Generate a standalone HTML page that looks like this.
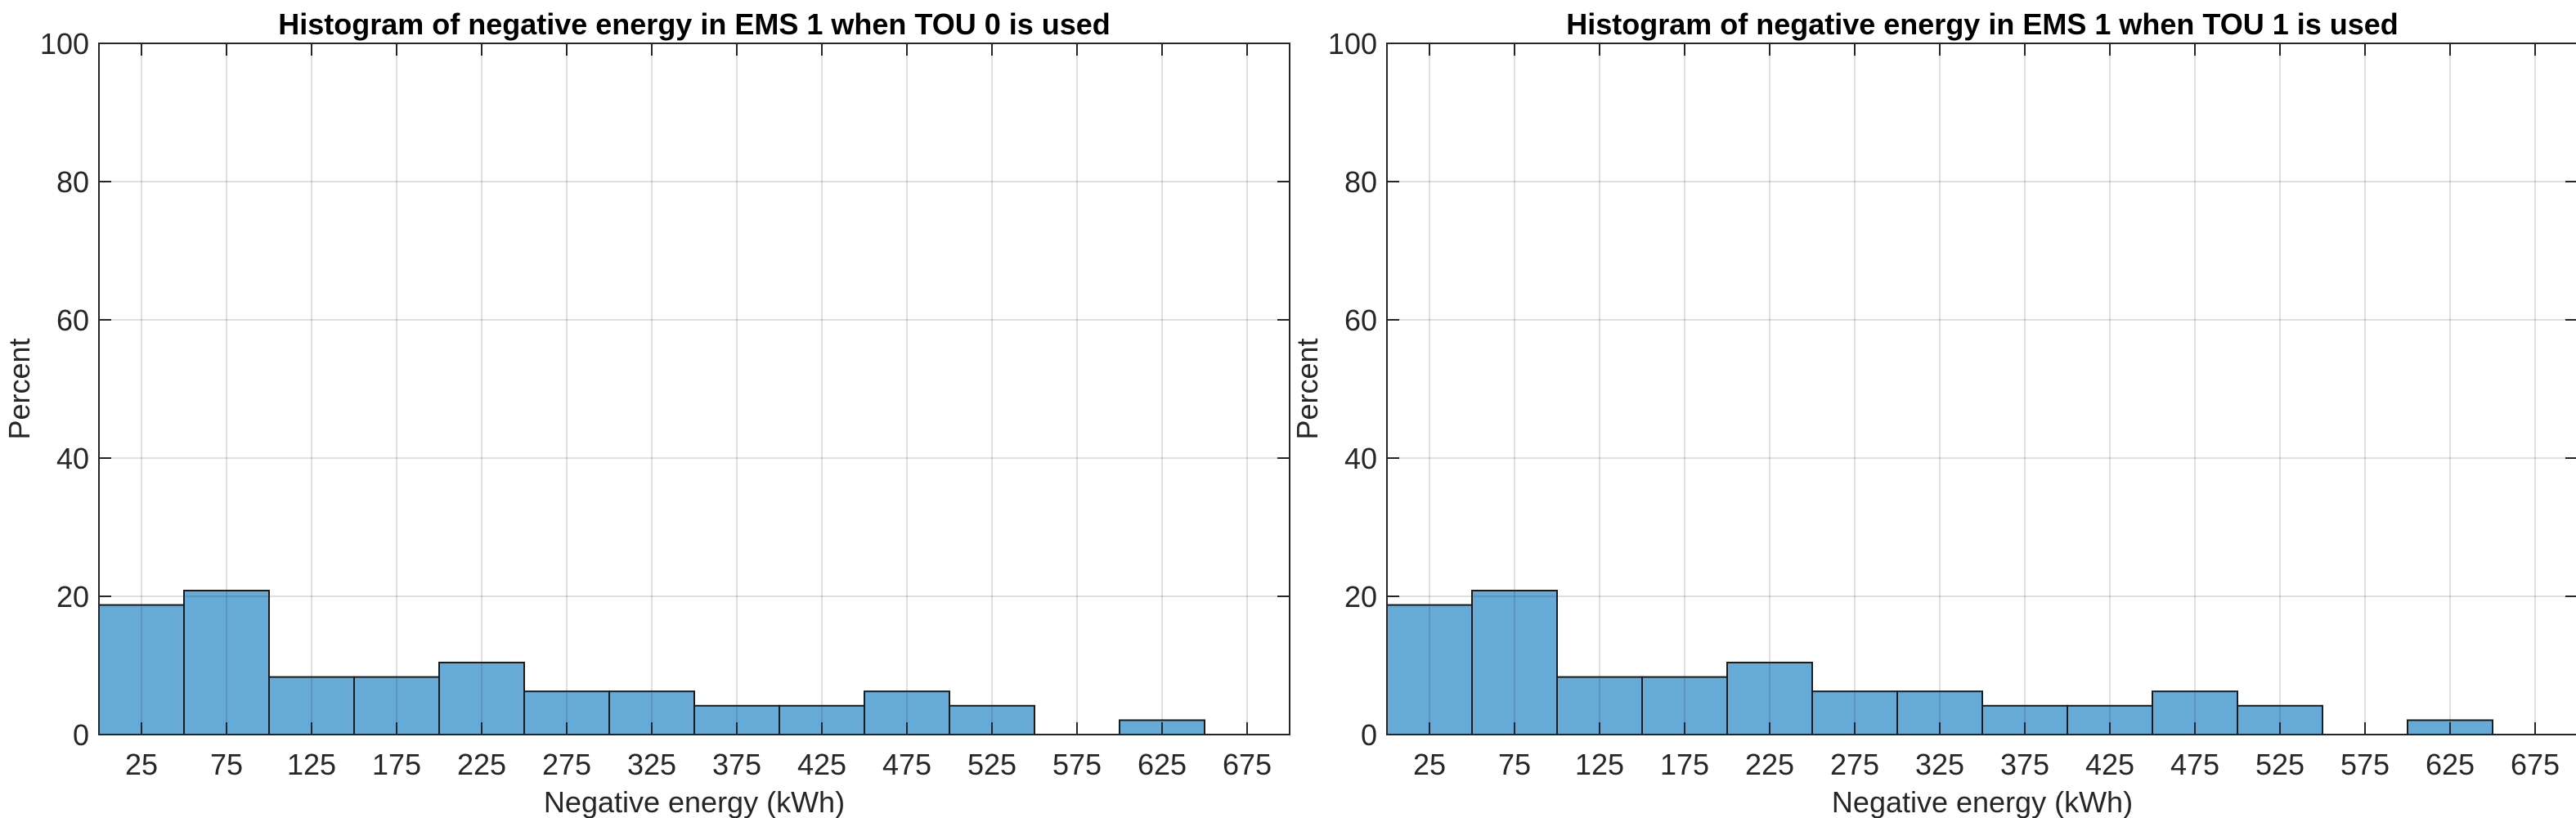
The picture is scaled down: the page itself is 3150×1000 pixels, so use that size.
<!DOCTYPE html>
<html><head><meta charset="utf-8"><style>
html,body{margin:0;padding:0;background:#fff;}
svg{display:block;font-family:"Liberation Sans",Arial,sans-serif;}
</style></head><body>
<svg id="fig" width="3150" height="1000" viewBox="0 0 3150 1000" xmlns="http://www.w3.org/2000/svg"></svg>
<script>
const binEdgesStart = [0,50,100,150,200,250,300,350,400,450,500,550,600,650];
const binWidth = 50;
const valuesTou0 = [18.75,20.83,8.33,8.33,10.42,6.25,6.25,4.17,4.17,6.25,4.17,0,2.08,0];
const valuesTou1 = [18.75,20.83,8.33,8.33,10.42,6.25,6.25,4.17,4.17,6.25,4.17,0,2.08,0];
const xTicks = [25,75,125,175,225,275,325,375,425,475,525,575,625,675];
const yTicks = [0,20,40,60,80,100];
const titles = ["Histogram of negative energy in EMS 1 when TOU 0 is used","Histogram of negative energy in EMS 1 when TOU 1 is used"];

const NS="http://www.w3.org/2000/svg";
const svg=document.getElementById('fig');
function mk(tag,attrs,parent){const e=document.createElementNS(NS,tag);for(const k in attrs)e.setAttribute(k,attrs[k]);(parent||svg).appendChild(e);return e;}

function drawPanel(left, values, title, idx){
  const top=53, bottom=898, width=1456;
  const xs=v=>left+v/700*width;
  const ys=v=>bottom-v/100*(bottom-top);
  const g=mk('g',{});
  
  
  // bars
  binEdgesStart.forEach((b,i)=>{
    const v=values[i]; if(v<=0) return;
    const r=mk('rect',{x:xs(b),y:ys(v),width:xs(b+binWidth)-xs(b),height:ys(0)-ys(v),fill:'#66aad7',stroke:'#1a1a1a','stroke-width':2},g);
    
    
  });
  // grid (drawn over bars, semi-transparent)
  xTicks.forEach(t=>{mk('line',{x1:xs(t),x2:xs(t),y1:top,y2:bottom,stroke:'rgba(38,38,38,0.15)','stroke-width':2},g);});
  yTicks.forEach(t=>{mk('line',{x1:left,x2:left+width,y1:ys(t),y2:ys(t),stroke:'rgba(38,38,38,0.15)','stroke-width':2},g);});
  // box
  mk('rect',{x:left,y:top,width:width,height:bottom-top,fill:'none',stroke:'#262626','stroke-width':2},g);
  // ticks
  xTicks.forEach(t=>{
    mk('line',{x1:xs(t),x2:xs(t),y1:bottom,y2:bottom-15,stroke:'#262626','stroke-width':2},g);
    mk('line',{x1:xs(t),x2:xs(t),y1:top,y2:top+15,stroke:'#262626','stroke-width':2},g);
    const tx=mk('text',{x:xs(t),y:947,'font-size':36,fill:'#262626','text-anchor':'middle'},g);
    tx.textContent=t;
    
    
  });
  yTicks.forEach(t=>{
    mk('line',{x1:left,x2:left+15,y1:ys(t),y2:ys(t),stroke:'#262626','stroke-width':2},g);
    mk('line',{x1:left+width,x2:left+width-15,y1:ys(t),y2:ys(t),stroke:'#262626','stroke-width':2},g);
    const ty=mk('text',{x:left-12,y:ys(t)+13,'font-size':36,fill:'#262626','text-anchor':'end'},g);
    ty.textContent=t;
    
    
  });
  const tt=mk('text',{x:left+width/2,y:42,'font-size':36,'font-weight':'bold',fill:'#000','text-anchor':'middle'},g);
  tt.textContent=title;
  
  
  const xl=mk('text',{x:left+width/2,y:993,'font-size':36,fill:'#262626','text-anchor':'middle'},g);
  xl.textContent='Negative energy (kWh)';
  
  
  const yl=mk('text',{x:0,y:0,'font-size':36,fill:'#262626','text-anchor':'middle',transform:`translate(${left-85},${(top+bottom)/2}) rotate(-90)`},g);
  yl.textContent='Percent';
  
  
}
drawPanel(121, valuesTou0, titles[0], 0);
drawPanel(1696, valuesTou1, titles[1], 1);
</script>
</body></html>
